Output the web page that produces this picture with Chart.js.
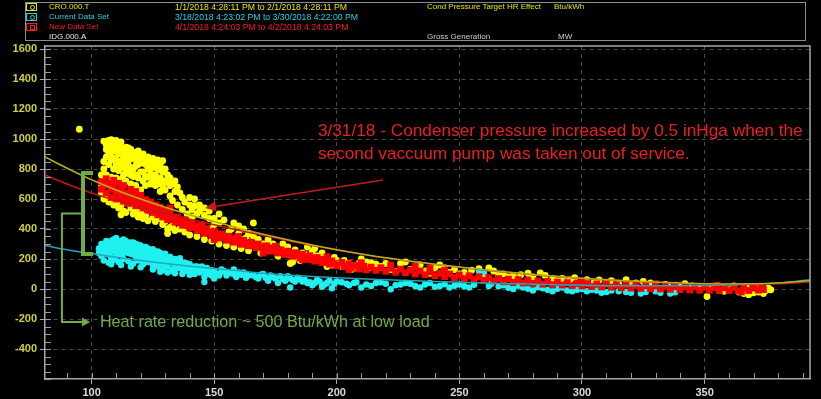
<!DOCTYPE html>
<html><head><meta charset="utf-8">
<script src="https://cdn.jsdelivr.net/npm/chart.js@4.4.0/dist/chart.umd.min.js"></script>
<style>
html,body{margin:0;padding:0;background:#000;overflow:hidden}
#wrap{position:relative;width:821px;height:399px;background:#000}
canvas{position:absolute;left:0;top:0}
.hdr{position:absolute;left:25px;top:2px;width:781px;height:39px;border:1px solid #8c8c8c;box-sizing:border-box}
.t{position:absolute;font:8px "Liberation Sans",sans-serif;white-space:nowrap;line-height:10px}
.d{font-size:8.7px}
.mk{position:absolute;left:26px;width:11px;height:8px;border:1px solid;box-sizing:border-box}
.mk i{position:absolute;left:3px;top:1px;width:3px;height:3px;border:1px solid;border-radius:50%}
.mk i.sq{border-radius:0}
</style></head>
<body>
<div id="wrap">
<canvas id="c" width="821" height="399"></canvas>
<div class="hdr"></div>
<div class="mk" style="top:3px;border-color:#e6e600"><i style="border-color:#e6e600"></i></div>
<div class="mk" style="top:13px;border-color:#22d3e0"><i style="border-color:#22d3e0"></i></div>
<div class="mk" style="top:23px;border-color:#ff1a1a"><i class="sq" style="border-color:#ff1a1a"></i></div>
<div class="t" style="left:49px;top:2px;color:#e6e600">CRO.000.T</div>
<div class="t d" style="left:175px;top:2px;color:#e6e600">1/1/2018 4:28:11 PM to 2/1/2018 4:28:11 PM</div>
<div class="t" style="left:427px;top:2px;color:#e6e600">Cond Pressure Target HR Effect</div>
<div class="t" style="left:554px;top:2px;color:#e6e600">Btu/kWh</div>
<div class="t" style="left:49px;top:12px;color:#22d3e0">Current Data Set</div>
<div class="t d" style="left:175px;top:12px;color:#22d3e0">3/18/2018 4:23:02 PM to 3/30/2018 4:22:00 PM</div>
<div class="t" style="left:49px;top:22px;color:#ff1a1a">New Data Set</div>
<div class="t d" style="left:175px;top:22px;color:#ff1a1a">4/1/2018 4:24:03 PM to 4/2/2018 4:24:03 PM</div>
<div class="t" style="left:49px;top:32px;color:#e8e8e8">IDG.000.A</div>
<div class="t" style="left:427px;top:32px;color:#d0d0d0">Gross Generation</div>
<div class="t" style="left:558px;top:32px;color:#d0d0d0">MW</div>
</div>
<script>
// ---- data ----
const xTickValues = [100,150,200,250,300,350];
const yTickValues = [-400,-200,0,200,400,600,800,1000,1200,1400,1600];

const croPoints = [[95,1065],[105,985],[107,960],[108,995],[109,975],[110,990],[111,965],[112,940],[106,930],[108,905],[110,920],[112,905],[113,880],[115,905],[114,945],[116,930],[118,900],[117,870],[119,880],[121,860],[120,840],[122,830],[124,850],[125,870],[127,860],[129,855],[126,810],[128,795],[123,800],[121,780],[118,820],[116,810],[114,830],[112,850],[110,860],[108,860],[106,880],[107,830],[109,800],[111,790],[113,760],[115,770],[117,750],[119,740],[121,720],[123,745],[125,760],[127,740],[129,720],[131,710],[132,690],[134,650],[130,660],[128,650],[126,690],[124,700],[122,690],[120,660],[118,690],[116,700],[114,720],[112,730],[110,740],[108,745],[106,760],[105,720],[104,680],[104,640],[106,620],[108,600],[110,580],[112,560],[113,520],[112,495],[116,540],[118,520],[120,510],[122,490],[125,480],[128,470],[130,450],[131,400],[131,370],[133,420],[135,460],[137,610],[138,580],[140,560],[141,530],[142,555],[144,560],[143,500],[146,490],[148,470],[150,470],[152,440],[145,420],[148,400],[150,380],[153,360],[155,330],[158,320],[160,370],[162,400],[166,440],[157,400],[163,340],[165,300],[168,280],[170,300],[172,260],[169,240],[175,270],[178,250],[180,230],[182,180],[181,170],[184,210],[186,240],[188,280],[190,250],[192,220],[195,200],[198,160],[200,190],[202,150],[205,170],[208,140],[210,200],[212,180],[214,175],[218,150],[222,130],[226,170],[228,180],[232,150],[236,120],[240,140],[242,160],[246,110],[250,100],[255,125],[258,135],[262,140],[266,90],[270,80],[275,95],[278,105],[283,108],[288,70],[292,70],[297,75],[302,62],[307,60],[312,55],[318,62],[322,40],[328,40],[334,30],[338,25],[345,20],[351,-50],[356,-10],[360,-5],[364,-20],[368,-38],[371,5],[373,0],[375,-10],[376,5],[370,-25],[366,-30],[358,-15],[340,15],[330,25],[320,30],[310,40],[300,48],
[104,760],[105,800],[105,850],[106,960],[107,900],[107,990],[108,940],[109,870],[109,935],[110,830],[110,960],[111,900],[111,850],[112,810],[112,980],[113,920],[113,830],[114,870],[114,790],[115,940],[115,850],[116,880],[116,760],[117,910],[117,800],[118,860],[118,760],[119,830],[119,920],[120,880],[120,780],[121,900],[122,860],[122,750],[123,880],[123,830],[124,800],[124,760],[125,820],[125,730],[126,850],[126,760],[127,800],[127,700],[128,830],[128,740],[129,780],[129,690],[130,800],[130,720],[131,760],[132,740],[133,700],[134,720],[135,680],[136,640],[132,620],[133,590],[135,560],[137,530],[139,500],[141,480],[140,610],[142,600],[144,520],[146,540],[148,520],[150,430],[152,500],[154,460],[156,380],[158,440],[160,420],[162,330],[164,370],[166,350],[168,330],[170,250],[172,330],[174,300],[176,220],[178,300],[180,280],[183,260],[185,190],[187,230],[189,200],[191,270],[194,240],[196,150],[199,210],[203,190],[206,130],[209,170],[213,140],[216,165],[220,170],[224,115],[230,130],[234,160],[238,105],[244,140],[248,130],[252,110],[260,95],[264,120],[268,100],[272,90],[280,80],[285,90],[290,55],[295,60],[305,45],[315,35],[325,50],[335,20],[342,35],[348,10],[353,15],[362,20],[367,15],[372,-20],[374,-30],[377,-5],
[105,600],[107,580],[109,560],[111,540],[114,510],[117,500],[119,480],[121,470],[123,455],[126,450],[129,430],[132,410],[134,390],[136,400],[138,380],[140,360],[143,350],[146,330],[149,320],[152,300],[155,290],[158,280],[161,270],[164,255]];

const currentPoints = [[103,240],[104,270],[105,300],[106,285],[107,260],[108,320],[109,300],[110,340],[111,315],[112,290],[113,330],[114,300],[115,280],[116,310],[117,290],[118,270],[119,295],[120,265],[121,250],[122,280],[123,255],[124,240],[125,265],[126,230],[127,250],[128,225],[130,235],[132,215],[134,200],[136,205],[104,220],[106,235],[108,210],[110,250],[112,230],[114,250],[116,235],[118,220],[120,230],[122,210],[124,205],[126,195],[128,190],[130,180],[132,175],[134,170],[136,160],[138,175],[140,165],[105,190],[107,175],[109,195],[111,180],[113,200],[115,185],[117,170],[119,190],[121,165],[123,180],[125,160],[127,150],[129,140],[131,150],[133,130],[135,140],[137,130],[139,120],[141,140],[143,150],[145,130],[147,110],[149,125],[151,100],[153,115],[155,90],[157,105],[159,80],[161,95],[163,75],[142,100],[146,80],[150,70],[154,120],[158,130],[162,110],[166,90],[170,100],[174,80],[178,65],[182,60],[186,50],[168,70],[172,55],[176,40],[180,85],[184,75],[188,40],[181,10],[146,47],[192,60],[196,40],[200,50],[204,35],[208,45],[212,30],[216,40],[220,35],[224,25],[228,40],[232,20],[236,30],[240,15],[244,32],[248,22],[252,18],[256,28],[258,120],[260,110],[263,35],[266,18],[270,8],[274,22],[278,2],[282,12],[286,-5],[290,2],[294,-10],[298,-5],[302,-15],[306,-10],[310,-20],[315,-15],[320,-25],[326,-20],[332,-25],[338,-22],[198,5],[210,10],[222,-2],[190,25],[194,15],
[103,270],[104,300],[105,250],[105,280],[106,320],[106,260],[107,300],[107,230],[108,280],[108,250],[109,330],[109,260],[110,300],[110,220],[111,280],[111,250],[112,320],[112,260],[113,280],[113,240],[114,320],[114,270],[115,300],[115,240],[116,280],[116,260],[117,310],[117,230],[118,300],[118,250],[119,270],[119,220],[120,290],[120,200],[121,270],[121,220],[122,250],[122,190],[123,270],[123,230],[124,260],[124,220],[125,240],[125,200],[126,250],[126,210],[127,230],[127,180],[128,240],[128,200],[129,220],[129,170],[130,210],[130,160],[131,200],[132,190],[133,180],[134,150],[135,190],[136,180],[137,160],[138,150],[139,170],[140,140],[141,120],[142,150],[143,130],[144,110],[145,150],[146,120],[147,140],[148,100],[149,90],[150,120],[152,90],[153,130],[156,110],[158,100],[160,110],[163,100],[164,90],[167,80],[169,95],[171,75],[173,90],[175,70],[177,85],[179,55],[181,70],[183,50],[185,65],[187,60],[189,45],[191,40],[193,50],[195,30],[197,55],[199,35],[202,45],[205,25],[207,40],[214,20],[218,45],[226,30],[230,35],[234,10],[238,40],[242,20],[246,10],[250,30],[254,10],[262,20],[268,25],[272,0],[276,10],[280,-10],[284,5],[288,-15],[292,10],[296,-15],[300,0],[304,-5],[308,-25],[312,-10],[318,-20],[324,-30],[330,-15],[336,-30],
[108,165],[112,160],[116,150],[120,145],[125,130],[128,115],[129,125],[131,110],[133,120],[134,105],[137,100],[140,95]];

const newPoints = [[104,715],[104,665],[105,690],[106,735],[106,640],[107,700],[108,665],[108,610],[109,725],[109,690],[110,645],[110,600],[111,705],[112,660],[112,620],[113,585],[113,690],[114,640],[115,610],[115,570],[116,665],[117,625],[117,590],[118,555],[118,650],[119,600],[120,570],[120,625],[121,540],[122,595],[122,560],[123,525],[124,580],[124,545],[125,510],[126,560],[126,525],[127,495],[128,545],[128,505],[129,480],[130,520],[130,490],[131,462],[132,500],[133,470],[134,445],[135,480],[136,450],[137,425],[138,462],[139,430],[140,408],[141,440],[142,412],[143,390],[144,420],[145,395],[146,372],[147,400],[148,378],[149,356],[150,385],[151,360],[152,340],[153,368],[154,345],[155,325],[156,352],[157,330],[158,312],[159,340],[160,318],[161,298],[162,325],[163,305],[164,288],[165,312],[166,292],[167,276],[168,300],[169,280],[170,262],[171,288],[172,268],[173,252],[174,275],[175,256],[176,240],[177,262],[178,246],[179,230],[180,252],[181,236],[182,218],[183,242],[184,225],[185,208],[186,232],[187,214],[188,198],[189,222],[190,204],[191,186],[192,210],[193,192],[194,176],[195,198],[196,180],[197,165],[198,188],[199,170],[200,155],[202,178],[203,150],[205,168],[206,140],[208,160],[209,134],[211,152],[212,128],[214,146],[216,124],[218,142],[220,118],[222,138],[224,112],[226,132],[228,108],[230,126],[232,100],[234,120],[236,95],[238,114],[240,88],[242,106],[244,82],[246,100],[248,76],[250,94],[252,70],[254,88],[256,64],[258,82],[260,58],[262,76],[264,54],[266,70],[268,48],[270,66],[272,44],[274,62],[276,40],[278,58],[280,36],[282,54],[284,32],[286,50],[288,28],[290,46],[292,26],[294,42],[296,22],[298,40],[300,20],[302,36],[304,16],[306,34],[308,14],[310,32],[312,12],[314,28],[316,8],[318,26],[320,6],[322,24],[324,4],[326,22],[328,2],[330,20],[332,0],[334,18],[336,-2],[338,16],[340,-4],[342,15],[344,-6],[346,14],[348,-8],[350,12],[352,-8],[354,10],[356,-10],[358,8],[360,-10],[362,10],[364,-12],[366,8],[368,-10],[370,6],[372,-8],[373,10],[374,-4],[196,215],[210,175],[222,160],[232,150],[238,140],[244,125],[205,130],[186,195],[175,285],[160,350],[145,430],[132,540],[150,330],[170,240],[300,52],[330,35],[355,25],[365,-20]];

const trendX      = [81,90,100,110,120,130,140,150,160,170,180,190,200,220,240,260,280,300,320,340,360,380,393];
const croTrendY   = [880,805,728,660,600,545,495,450,405,365,328,293,262,208,165,128,97,72,53,40,34,40,55];
const newTrendY   = [760,700,640,590,545,503,465,428,392,357,323,290,260,206,163,126,95,70,51,38,31,35,46];
const curTrendY   = [290,262,236,212,190,170,152,136,122,105,93,83,75,62,50,40,31,25,21,21,26,40,62];

// ---- annotation layout (data coordinates) ----
const note = {lines:["3/31/18 - Condenser pressure increased by 0.5 inHga when the","second vaccuum pump was taken out of service."], x:192.3, y:1053, gapPx:23, fitPx:485, color:'#e8201e'};
const noteArrow = {from:[218.8,726.7], to:[146.3,540], color:'#c8181c'};
const bracket = {x0:96.5, x1:100.6, yTop:773, yBot:233, color:'#70ad47'};
const reduction = {xLeft:87.9, yMid:503, yLow:-220, xTip:99.4, text:'Heat rate reduction ~ 500 Btu/kWh at low load', tx:103.4, fitPx:330, color:'#70ad47'};

const pairs = a => a.map(p => ({x:p[0], y:p[1]}));
const line = ys => trendX.map((x,i) => ({x, y:ys[i]}));

const deco = {
  id:'deco',
  beforeDraw(c){const ctx=c.ctx;ctx.save();ctx.fillStyle='#000';ctx.fillRect(0,0,c.width,c.height);ctx.restore();},
  afterDraw(c){
    const ctx=c.ctx, xs=c.scales.x, ys=c.scales.y, a=c.chartArea;
    ctx.save();
    ctx.strokeStyle='#a8a8a8'; ctx.lineWidth=1.5;
    ctx.beginPath(); ctx.moveTo(a.left,a.top); ctx.lineTo(a.right,a.top); ctx.lineTo(a.right,a.bottom); ctx.stroke();
    ctx.strokeStyle='#9a9a9a'; ctx.lineWidth=1;
    ctx.beginPath();
    for(let v=-600; v<=1600; v+=50){const y=Math.round(ys.getPixelForValue(v))+0.5; ctx.moveTo(a.left,y); ctx.lineTo(a.left+6,y);}
    for(let v=90; v<=390; v+=10){const x=Math.round(xs.getPixelForValue(v))+0.5; ctx.moveTo(x,a.bottom); ctx.lineTo(x,a.bottom-6);}
    ctx.stroke();
    const fit=(txt,target,fam)=>{ctx.font='16px '+fam; const w=ctx.measureText(txt).width; return 16*target/w;};
    const fam='"Liberation Sans", sans-serif';
    let fs=fit(note.lines[0],note.fitPx,fam);
    ctx.font=fs.toFixed(2)+'px '+fam; ctx.fillStyle=note.color; ctx.textBaseline='middle'; ctx.textAlign='left';
    const nx=xs.getPixelForValue(note.x), ny=ys.getPixelForValue(note.y);
    note.lines.forEach((t,i)=>ctx.fillText(t,nx,ny+i*note.gapPx));
    const ax0=xs.getPixelForValue(noteArrow.from[0]), ay0=ys.getPixelForValue(noteArrow.from[1]);
    const ax1=xs.getPixelForValue(noteArrow.to[0]), ay1=ys.getPixelForValue(noteArrow.to[1]);
    const ang=Math.atan2(ay1-ay0,ax1-ax0), hl=11, hw=5;
    ctx.strokeStyle=noteArrow.color; ctx.fillStyle=noteArrow.color; ctx.lineWidth=1.5;
    ctx.beginPath(); ctx.moveTo(ax0,ay0); ctx.lineTo(ax1-Math.cos(ang)*hl,ay1-Math.sin(ang)*hl); ctx.stroke();
    ctx.beginPath(); ctx.moveTo(ax1,ay1);
    ctx.lineTo(ax1-Math.cos(ang)*hl-Math.sin(ang)*hw, ay1-Math.sin(ang)*hl+Math.cos(ang)*hw);
    ctx.lineTo(ax1-Math.cos(ang)*hl+Math.sin(ang)*hw, ay1-Math.sin(ang)*hl-Math.cos(ang)*hw);
    ctx.closePath(); ctx.fill();
    const bx0=xs.getPixelForValue(bracket.x0), bx1=xs.getPixelForValue(bracket.x1);
    const byT=ys.getPixelForValue(bracket.yTop), byB=ys.getPixelForValue(bracket.yBot);
    ctx.strokeStyle=bracket.color; ctx.lineWidth=4; ctx.lineJoin='miter';
    ctx.beginPath(); ctx.moveTo(bx1,byT); ctx.lineTo(bx0,byT); ctx.lineTo(bx0,byB); ctx.lineTo(bx1,byB); ctx.stroke();
    const rxL=xs.getPixelForValue(reduction.xLeft), ryM=ys.getPixelForValue(reduction.yMid), ryL=ys.getPixelForValue(reduction.yLow), rxT=xs.getPixelForValue(reduction.xTip);
    ctx.lineWidth=2;
    ctx.beginPath(); ctx.moveTo(bx0,ryM); ctx.lineTo(rxL,ryM); ctx.lineTo(rxL,ryL); ctx.lineTo(rxT-7,ryL); ctx.stroke();
    ctx.fillStyle=reduction.color;
    ctx.beginPath(); ctx.moveTo(rxT,ryL); ctx.lineTo(rxT-8,ryL-4.5); ctx.lineTo(rxT-8,ryL+4.5); ctx.closePath(); ctx.fill();
    fs=fit(reduction.text,reduction.fitPx,fam);
    ctx.font=fs.toFixed(2)+'px '+fam; ctx.textBaseline='middle';
    ctx.fillText(reduction.text, xs.getPixelForValue(reduction.tx), ryL+1);
    ctx.restore();
  }
};

const tickFont = {family:'"Liberation Sans", sans-serif', size:11, weight:'bold'};
const plain = v => String(v);

new Chart(document.getElementById('c'), {
  type:'scatter',
  data:{datasets:[
    {label:'CRO trend', data:line(croTrendY), showLine:true, borderColor:'#b4ae1c', borderWidth:1.5, pointRadius:0, cubicInterpolationMode:'monotone'},
    {label:'New trend', data:line(newTrendY), showLine:true, borderColor:'#c41414', borderWidth:1.5, pointRadius:0, cubicInterpolationMode:'monotone'},
    {label:'Current trend', data:line(curTrendY), showLine:true, borderColor:'#1fa7bb', borderWidth:1.5, pointRadius:0, cubicInterpolationMode:'monotone'},
    {label:'New Data Set', data:pairs(newPoints), pointStyle:'rect', pointRadius:4.8, backgroundColor:'#ff0000', borderWidth:0},
    {label:'Current Data Set', data:pairs(currentPoints), pointRadius:3.2, backgroundColor:'#1ff0f0', borderWidth:0},
    {label:'CRO.000.T', data:pairs(croPoints), pointRadius:3.4, backgroundColor:'#ffff00', borderWidth:0}
  ]},
  options:{
    responsive:false, animation:false, devicePixelRatio:1,
    layout:{padding:{top:46,right:11,left:0,bottom:0}},
    plugins:{legend:{display:false}, tooltip:{enabled:false}},
    elements:{point:{hoverRadius:0}},
    scales:{
      x:{type:'linear', min:81, max:393,
         afterBuildTicks:s=>{s.ticks=xTickValues.map(v=>({value:v}));},
         afterFit:s=>{s.height=20;},
         grid:{color:'#4a4a4a', lineWidth:1, tickColor:'#a8a8a8', tickLength:5},
         border:{display:true, color:'#a8a8a8', width:1.5, dash:[4,4]},
         ticks:{color:'#dcdcdc', font:tickFont, padding:2, maxRotation:0, autoSkip:false, callback:plain}},
      y:{type:'linear', min:-600, max:1620,
         afterBuildTicks:s=>{s.ticks=yTickValues.map(v=>({value:v}));},
         afterFit:s=>{s.width=45;},
         grid:{color:'#4a4a4a', lineWidth:1, tickColor:'#a8a8a8', tickLength:5},
         border:{display:true, color:'#a8a8a8', width:1.5, dash:[4,4]},
         ticks:{color:'#cfcf3e', font:tickFont, padding:3, autoSkip:false, callback:plain}}
    }
  },
  plugins:[deco]
});
</script>
</body></html>
